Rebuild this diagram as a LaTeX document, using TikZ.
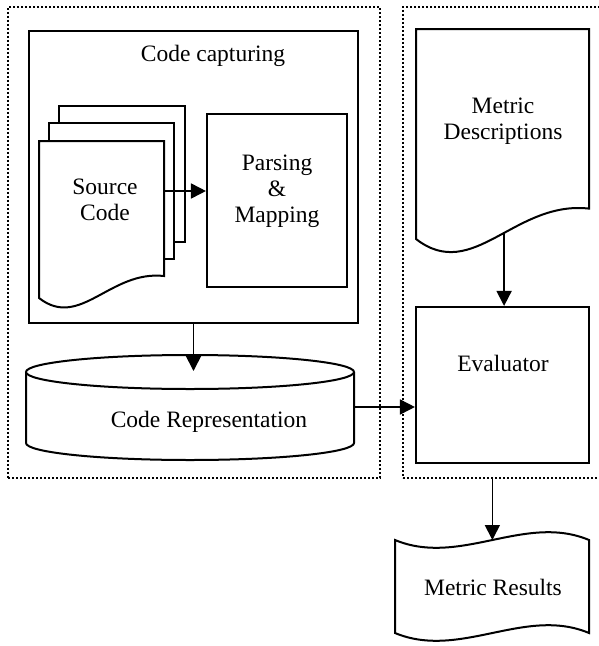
\documentclass[tikz,border=0pt]{standalone}
\usepackage{fontspec}
\setmainfont{Liberation Serif}
\usepackage{tikz}
\usetikzlibrary{
  arrows.meta,
  calc,
  shapes.geometric,
  positioning}

\begin{document}
\begin{tikzpicture}[x=1pt,y=-1pt,>={Triangle[length=15pt,width=15pt]},
    txt/.style={font=\fontsize{23.5}{26}\selectfont,align=center,inner sep=0pt},
    panel/.style={rectangle,draw,line width=2.4pt,dash pattern=on 2.2pt off 1.8pt},
    box/.style={rectangle,draw,line width=2.1pt},
    shapeline/.style={draw,line width=2pt,fill=white},
    link/.style={->,line width=1.7pt}]
        \useasboundingbox (0,0) rectangle (599,646);
        % Panels
        \node(codepanel) at (194,242.5)[panel,minimum width=372,minimum height=471] {};
        \node(evalpanel) at (501.5,242.5)[panel,minimum width=197,minimum height=471] {};
        % Boxes
        \node(capture) at (193.5,177)[box,line width=2.8pt,minimum width=329,minimum height=292] {};
        \node(parsing) at (277,200.5)[box,minimum width=140,minimum height=173] {};
        \node(eval) at (502.5,385)[box,minimum width=173,minimum height=156] {};
        % Source pages
        \draw[shapeline] (59,106) rectangle (185,242);
        \draw[shapeline] (49,123) rectangle (174,259);
        \draw[shapeline] (39,298) .. controls (80,330) and (110,270) .. (164,276) -- (164,141) -- (39,141) -- cycle;
        % Metric descriptions
        \draw[shapeline] (416,239) .. controls (473,283.3) and (514.6,200.2) .. (589,208.6) coordinate[pos=0.55] (mdout)
            -- (589,29) -- (416,29) -- cycle;
        % Code representation
        \draw[shapeline] (26,372) -- (26,443) arc[start angle=180,end angle=0,x radius=164,y radius=17] -- (354,372);
        \draw[shapeline] (190,372) ellipse[x radius=164,y radius=17];
        % Metric results
        \draw[shapeline] (395,540) .. controls (460,567) and (525,513) .. (589,540) coordinate[pos=0.5] (mrtop)
            -- (589,633) .. controls (525,606) and (460,660) .. (395,633) -- cycle;
        % Texts
        \node(capturetxt) at (213,56)[txt] {Code capturing};
        \node(srctxt) at (105,200)[txt] {Source\\Code};
        \node(parsingtxt) at (277,191)[txt] {Parsing\\\&\\Mapping};
        \node(reptxt) at (209,422)[txt] {Code Representation};
        \node(desctxt) at (503,121)[txt] {Metric\\Descriptions};
        \node(evaltxt) at (503,363)[txt] {Evaluator};
        \node(restxt) at (493,587)[txt] {Metric Results};
        % Links
        \coordinate(srcright) at (164,191);
        \coordinate(reptop) at (193.5,371);
        \coordinate(repright) at (354,407);
        \draw[link] (srcright) -- (srcright -| parsing.west);
        \draw[link] (capture.south) -- (reptop);
        \draw[link] (repright) -- (repright -| eval.west);
        \draw[link] (mdout) -- (mdout |- eval.north);
        \draw[link] (mrtop |- evalpanel.south) -- (mrtop);
    \end{tikzpicture}
\end{document}
